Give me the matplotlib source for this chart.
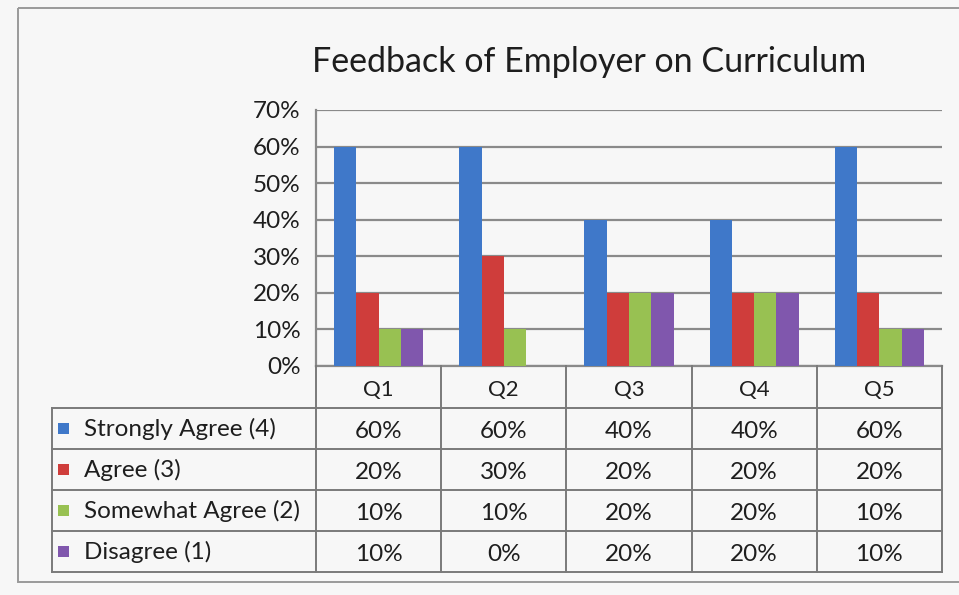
import matplotlib.pyplot as plt
from matplotlib.patches import Rectangle
import numpy as np

plt.rcParams['font.family'] = ['Lato', 'DejaVu Sans']

questions = ['Q1', 'Q2', 'Q3', 'Q4', 'Q5']
series_names = ['Strongly Agree (4)', 'Agree (3)', 'Somewhat Agree (2)', 'Disagree (1)']
strongly_agree = [0.60, 0.60, 0.40, 0.40, 0.60]
agree = [0.20, 0.30, 0.20, 0.20, 0.20]
somewhat_agree = [0.10, 0.10, 0.20, 0.20, 0.10]
disagree = [0.10, 0.00, 0.20, 0.20, 0.10]
yticks = [0, 0.1, 0.2, 0.3, 0.4, 0.5, 0.6, 0.7]

series = [strongly_agree, agree, somewhat_agree, disagree]
colors = ['#3f78c9', '#cf3d3b', '#98c152', '#8057ad']
txt = '#1e1e1e'

W, H = 959, 595
fig = plt.figure(figsize=(W / 100, H / 100), dpi=100)
fig.patch.set_facecolor('#f7f7f7')

# plot area in pixel terms
left, right, top, bottom = 316, 942, 110, 366
ax = fig.add_axes([left / W, 1 - bottom / H, (right - left) / W, (bottom - top) / H])
ax.set_facecolor('#f7f7f7')

x = np.arange(len(questions))
bw = 0.178
for k, vals in enumerate(series):
    ax.bar(x + (k - 1.5) * bw, vals, width=bw, color=colors[k], zorder=3)

ax.set_xlim(-0.5, len(questions) - 0.5)
ax.set_ylim(0, 0.7)
ax.set_yticks(yticks)
ax.set_yticklabels(['{:.0f}%'.format(v * 100) for v in yticks], fontsize=17.5, color=txt)
ax.set_xticks([])
ax.yaxis.grid(True, color='#8a8a8a', linewidth=1.6, zorder=0)
ax.tick_params(axis='y', length=0, pad=11)
for s in ['top', 'right']:
    ax.spines[s].set_visible(False)
ax.spines['left'].set_color('#8a8a8a')
ax.spines['left'].set_linewidth(1.6)
ax.spines['bottom'].set_color('#8a8a8a')
ax.spines['bottom'].set_linewidth(1.6)

# overlay axes in pixel coords for the title, data table and frame
ov = fig.add_axes([0, 0, 1, 1], zorder=5)
ov.set_xlim(0, W)
ov.set_ylim(H, 0)
ov.axis('off')
ov.patch.set_alpha(0)

ov.add_patch(Rectangle((18, 8), W, 574, fill=False, edgecolor='#9a9a9a', linewidth=1.4))
ov.text(589, 62, 'Feedback of Employer on Curriculum', ha='center', va='center',
        fontsize=24.5, color=txt)

line_kw = dict(color='#7a7a7a', linewidth=1.4)
col_w = (right - left) / len(questions)
col_edges = [left + i * col_w for i in range(len(questions) + 1)]
row_edges = [366, 408, 449, 490, 531, 572]
label_left = 52

# column lines over the header row and the body
for cx in col_edges:
    ov.plot([cx, cx], [row_edges[0], row_edges[-1]], **line_kw)
ov.plot([label_left, label_left], [row_edges[1], row_edges[-1]], **line_kw)
for ry in row_edges[1:]:
    ov.plot([label_left, right], [ry, ry], **line_kw)

for i, q in enumerate(questions):
    ov.text(col_edges[i] + col_w / 2, (row_edges[0] + row_edges[1]) / 2 + 3, q,
            ha='center', va='center', fontsize=16, color=txt)

for r, (name, vals) in enumerate(zip(series_names, series)):
    yc = (row_edges[r + 1] + row_edges[r + 2]) / 2
    ov.add_patch(Rectangle((58, yc - 6), 11, 11, facecolor=colors[r], edgecolor='none'))
    ov.text(84, yc, name, ha='left', va='center', fontsize=17.5, color=txt)
    for i, v in enumerate(vals):
        ov.text(col_edges[i] + col_w / 2, yc + 3, '{:.0f}%'.format(v * 100),
                ha='center', va='center', fontsize=17.5, color=txt)

fig.savefig('out.png', dpi=100, facecolor=fig.get_facecolor())
